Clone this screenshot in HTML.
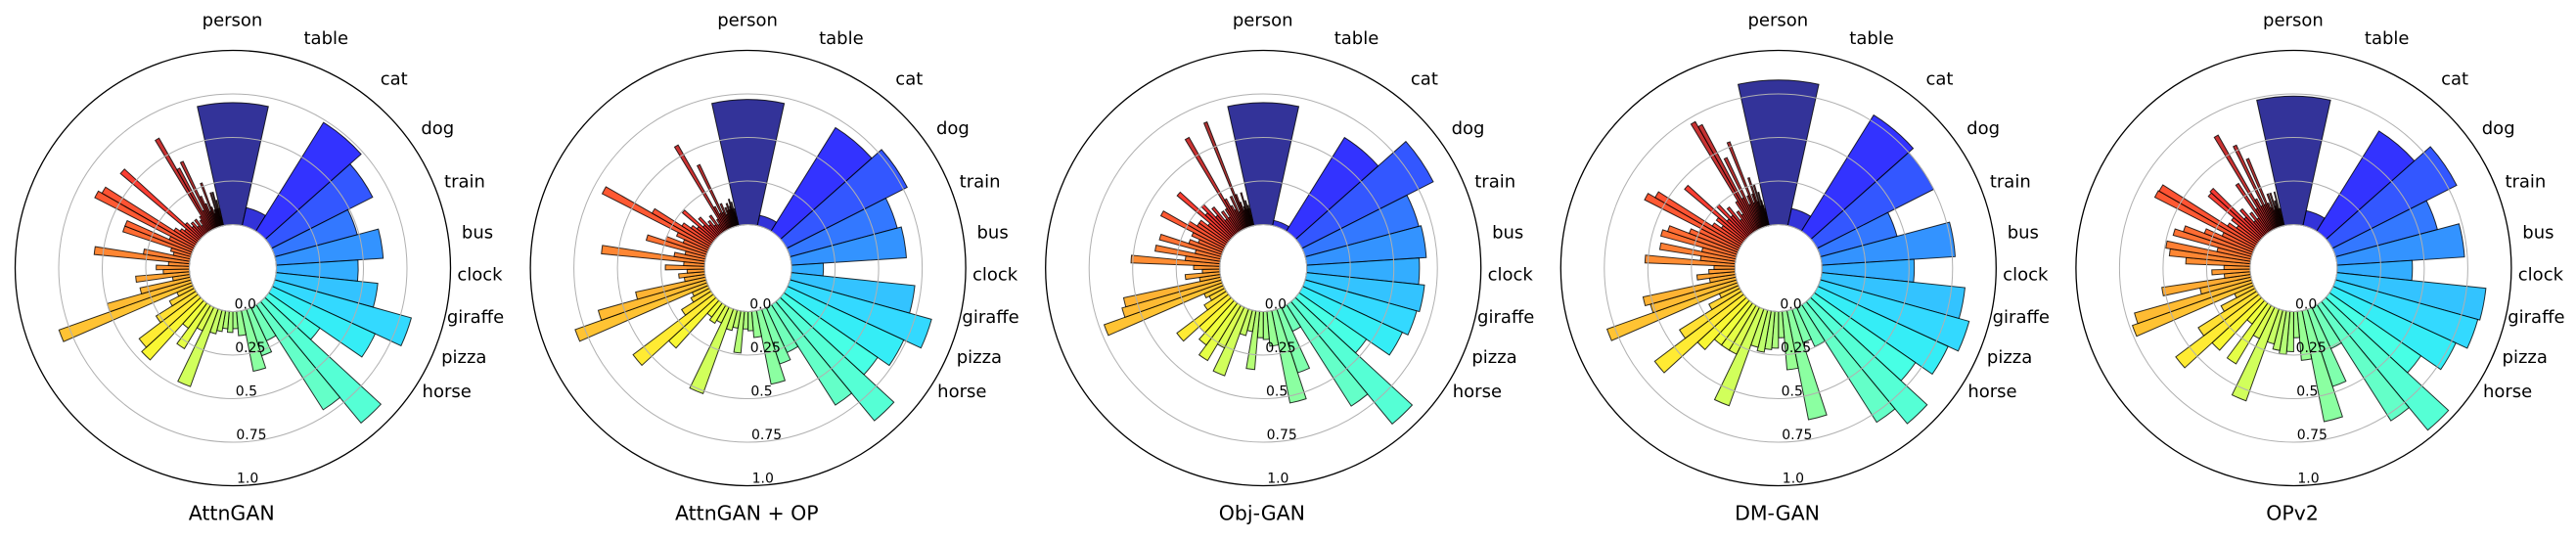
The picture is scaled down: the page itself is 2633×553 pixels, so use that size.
<!DOCTYPE html>
<html>
<head>
<meta charset="utf-8">
<style>
  html, body { margin: 0; padding: 0; background: #ffffff; }
  body { width: 2633px; height: 548px; overflow: hidden; }
  svg text { font-family: "DejaVu Sans", "Liberation Sans", sans-serif; fill: #000; }
</style>
</head>
<body>
<svg id="chart" xmlns="http://www.w3.org/2000/svg" width="2633" height="548" viewBox="0 0 2633 548">
  <rect x="0" y="0" width="2633" height="548" fill="#ffffff"/>
</svg>
<script>
(function(){
  var NS = 'http://www.w3.org/2000/svg';
  var svg = document.getElementById('chart');

  // angular bar edges (degrees, clockwise from north)
  var edges = [-12.4,12.4,31.9,48.4,63.1,75,86.3,96,105.6,114.8,124.6,132.6,140.4,147.5,155.2,161.8,168.8,175.2,180,184.8,189.6,194.4,199.7,205.9,211,216.5,222,227.5,233,238,242.5,246.5];
  for (var n = 0; n < 47; n++) {
    var w = 3.9 - n * 3.5 / 46;
    edges.push(edges[edges.length - 1] + w);
  }

  var data = [
    [ .70,.105,.735,.65,.49,.615,.47,.587,.814,.65,
      .357,.905,.715,.21,.28,.354,.14,.098,.12,.10,
      .12,.14,.473,.15,.29,.18,.46,.424,.27,.16,
      .10,.81,.50,.295,.10,.31,.15,.19,.12,.55,
      .27,.10,.12,.415,.415,.15,.64,.616,.15,.12,
      .10,.593,.12,.08,.10,.06,.10,.05,.08,.10,
      .608,.40,.12,.426,.20,.15,.10,.27,.12,.08,
      .10,.20,.10,.20,.10,.15,.05,.10 ],
    [ .718,.06,.70,.775,.637,.661,.183,.713,.844,.735,
      .654,.888,.683,.284,.33,.43,.15,.11,.10,.24,
      .10,.12,.516,.10,.12,.10,.368,.577,.20,.12,
      .10,.804,.644,.41,.12,.15,.10,.225,.12,.596,
      .18,.12,.356,.25,.15,.20,.69,.385,.20,.15,
      .12,.243,.10,.15,.08,.10,.06,.12,.05,.08,
      .563,.15,.10,.406,.10,.15,.08,.12,.10,.14,
      .10,.12,.16,.10,.14,.08,.10,.05 ],
    [ .70,.03,.633,.845,.675,.688,.647,.681,.665,.63,
      .47,.912,.69,.15,.383,.54,.20,.16,.15,.335,
      .12,.15,.407,.26,.37,.30,.25,.371,.15,.10,
      .12,.72,.593,.57,.12,.20,.10,.15,.51,.20,
      .379,.15,.368,.20,.15,.20,.41,.25,.20,.20,
      .15,.396,.20,.25,.15,.20,.10,.15,.10,.15,
      .613,.20,.15,.12,.20,.10,.649,.20,.15,.10,
      .12,.20,.10,.15,.10,.12,.06,.10 ],
    [ .83,.10,.785,.75,.455,.767,.53,.827,.887,.823,
      .706,.91,.80,.247,.20,.638,.336,.15,.21,.22,
      .24,.22,.59,.30,.30,.30,.38,.64,.42,.20,
      .12,.795,.514,.545,.15,.22,.15,.12,.517,.20,
      .44,.20,.45,.42,.30,.25,.613,.566,.20,.15,
      .20,.454,.15,.25,.15,.20,.10,.15,.12,.20,
      .717,.683,.20,.45,.15,.20,.527,.15,.20,.295,
      .15,.25,.12,.20,.15,.12,.08,.10 ],
    [ .737,.087,.677,.80,.605,.733,.432,.86,.848,.776,
      .638,.958,.79,.26,.466,.649,.282,.15,.23,.248,
      .23,.20,.56,.20,.392,.15,.385,.598,.396,.22,
      .12,.733,.70,.30,.515,.15,.22,.15,.37,.467,
      .493,.20,.467,.417,.30,.20,.645,.64,.20,.15,
      .20,.39,.40,.15,.20,.10,.15,.10,.33,.15,
      .628,.20,.15,.529,.15,.43,.15,.12,.20,.10,
      .20,.12,.15,.10,.20,.10,.06,.10 ]
  ];
  var titles = ['AttnGAN', 'AttnGAN + OP', 'Obj-GAN', 'DM-GAN', 'OPv2'];
  var cats = [
    ['person', -0.5, 26.5], ['table', 95.3, 45], ['cat', 164.7, 86.7], ['dog', 209.3, 137],
    ['train', 237, 191.7], ['bus', 250, 243.3], ['clock', 252.5, 286.7], ['giraffe', 248, 330],
    ['pizza', 236.3, 371], ['horse', 218.7, 406]
  ];

  function interp(pts, t) {
    for (var i = 0; i < pts.length - 1; i++) {
      var x0 = pts[i][0], y0 = pts[i][1], x1 = pts[i+1][0], y1 = pts[i+1][1];
      if (t <= x1) return y0 + (y1 - y0) * (t - x0) / (x1 - x0);
    }
    return pts[pts.length - 1][1];
  }
  function jet(t) {
    t = Math.max(0, Math.min(1, t));
    var r = interp([[0,0],[0.35,0],[0.66,1],[0.89,1],[1,0.5]], t);
    var g = interp([[0,0],[0.125,0],[0.375,1],[0.64,1],[0.91,0],[1,0]], t);
    var b = interp([[0,0.5],[0.11,1],[0.34,1],[0.65,0],[1,0]], t);
    return 'rgb(' + Math.round(r*255) + ',' + Math.round(g*255) + ',' + Math.round(b*255) + ')';
  }
  function el(tag, attrs, text) {
    var e = document.createElementNS(NS, tag);
    for (var k in attrs) e.setAttribute(k, attrs[k]);
    if (text !== undefined) e.textContent = text;
    svg.appendChild(e);
    return e;
  }
  function pt(cx, cy, r, deg) {
    var a = deg * Math.PI / 180;
    return (cx + r * Math.sin(a)).toFixed(2) + ',' + (cy - r * Math.cos(a)).toFixed(2);
  }

  var r0 = 44.5, U = 178, cy = 274;
  for (var c = 0; c < 5; c++) {
    var cx = 238 + 526.6 * c;
    var h = data[c];
    // bars
    for (var i = 0; i < h.length; i++) {
      var a1 = edges[i], a2 = edges[i+1];
      var R = r0 + h[i] * U;
      var tcol = (a1 + 12.4) / 360;
      var large = (a2 - a1) > 180 ? 1 : 0;
      var d = 'M' + pt(cx, cy, r0, a1) + ' L' + pt(cx, cy, R, a1) +
              ' A' + R.toFixed(2) + ',' + R.toFixed(2) + ' 0 ' + large + ' 1 ' + pt(cx, cy, R, a2) +
              ' L' + pt(cx, cy, r0, a2) +
              ' A' + r0 + ',' + r0 + ' 0 ' + large + ' 0 ' + pt(cx, cy, r0, a1) + ' Z';
      el('path', {
        d: d, fill: jet(tcol), 'fill-opacity': 0.8,
        stroke: '#000', 'stroke-opacity': 0.8, 'stroke-width': 1, 'stroke-linejoin': 'miter'
      });
    }
    // gridlines (above bars)
    for (var k = 0; k <= 3; k++) {
      el('circle', { cx: cx, cy: cy, r: r0 + 44.5 * k, fill: 'none', stroke: '#b0b0b0', 'stroke-width': 1 });
    }
    // outer spine
    el('circle', { cx: cx, cy: cy, r: r0 + U, fill: 'none', stroke: '#000', 'stroke-width': 1.3 });
    // radial tick labels
    var rl = ['0.0', '0.25', '0.5', '0.75', '1.0'];
    for (var k2 = 0; k2 < 5; k2++) {
      var Rr = r0 + 44.5 * k2;
      el('text', { x: (cx + 1 + 0.0135 * Rr).toFixed(1), y: (cy + Rr - 3.2).toFixed(1), 'font-size': 14 }, rl[k2]);
    }
    // category labels
    for (var j = 0; j < cats.length; j++) {
      el('text', { x: (cx + cats[j][1]).toFixed(1), y: cats[j][2], 'font-size': 18, 'text-anchor': 'middle' }, cats[j][0]);
    }
    // title
    el('text', { x: (cx - 1.3).toFixed(1), y: 531.7, 'font-size': 20.5, 'text-anchor': 'middle' }, titles[c]);
  }
})();
</script>
</body>
</html>
